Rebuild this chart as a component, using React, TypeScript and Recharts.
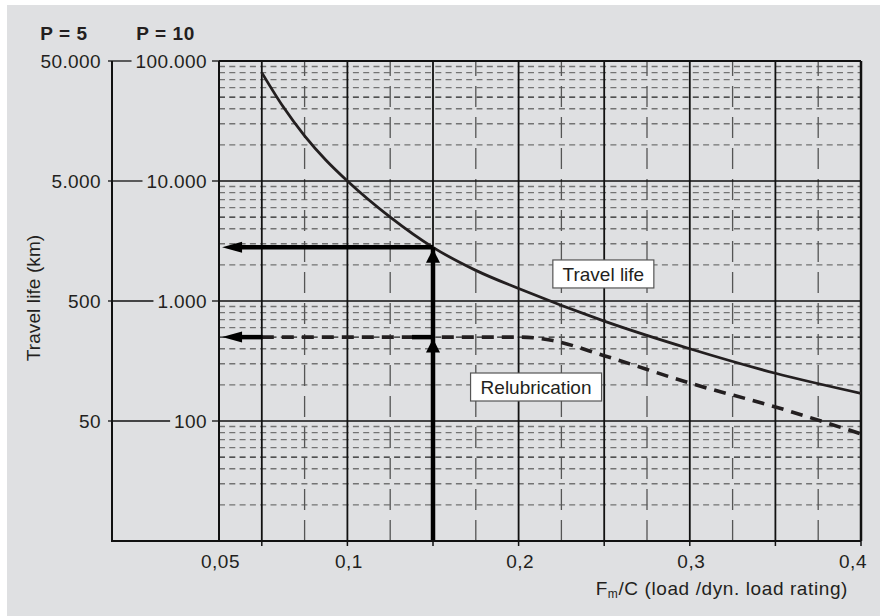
import React from 'react';
import { LineChart, Line, XAxis, YAxis, ReferenceLine, ReferenceDot } from 'recharts';

// ---------- data ----------
const travelX = [0.05, 0.0625, 0.075, 0.0875, 0.1, 0.125, 0.15, 0.175, 0.2, 0.25, 0.3, 0.35, 0.4];
const travelLife = [80000, 41500, 23800, 14900, 10000, 5000, 2800, 1800, 1270, 680, 400, 250, 170];

const relubX = [0.05, 0.1, 0.15, 0.2, 0.21, 0.22, 0.25, 0.3, 0.35, 0.4];
const relubrication = [500, 500, 500, 500, 492, 468, 350, 207, 131, 78];

const xTicks = [0.025, 0.05, 0.1, 0.15, 0.2, 0.25, 0.3, 0.35, 0.4];
const xLabelValues = [0.025, 0.1, 0.2, 0.3, 0.4];
const xLabelTexts = ['0,05', '0,1', '0,2', '0,3', '0,4'];

const p10Ticks = [100, 1000, 10000, 100000];
const p10Labels = ['100', '1.000', '10.000', '100.000'];
const p5Ticks = [50, 500, 5000, 50000];
const p5Labels = ['50', '500', '5.000', '50.000'];

const majorX = [0.05, 0.1, 0.15, 0.2, 0.25, 0.3, 0.35];
const minorX = [0.075, 0.125, 0.175, 0.225, 0.275, 0.325, 0.375];
const majorY = [100, 1000, 10000];
const decades = [10, 100, 1000, 10000];
const minorYDark = [50, 500, 5000, 50000];
const minorYGray = decades.flatMap((d) => [2, 3, 4, 6, 7, 8, 9].map((k) => k * d));

// arrow annotation values
const readX = 0.15;
const readTravel = 2800;
const readRelub = 500;
const arrowTipX = 0.0268;
const arrowShaftStartX = 0.035;
const relubThickEndX = 0.0505;
const relubThickStartX = 0.1377;

const travelLabel = { x: 0.2495, y: 1680, text: 'Travel life', w: 101 };
const relubLabel = { x: 0.2102, y: 192, text: 'Relubrication', w: 131 };

// ---------- style ----------
const BG = '#dfe0e2';
const INK = '#231f20';
const FONT = '"Liberation Sans", Arial, Helvetica, sans-serif';
const FS = 19;
const P10_W = 107;
const P5_W = 105;

const travelData = travelX.map((x, i) => ({ x, y: travelLife[i] }));
const relubData = relubX.map((x, i) => ({ x, y: relubrication[i] }));

// approximate Arial advance widths for tick label strings
const textWidth = (s: string, size: number, ls: number) =>
  s.split('').reduce((w, c) => w + (c === '.' || c === ',' ? 0.278 : 0.556) * size + ls, 0);

const XTick = (props: any) => {
  const { x, y, payload } = props;
  const v = payload.value;
  const idx = xLabelValues.indexOf(v);
  const isLast = idx === xLabelValues.length - 1;
  return (
    <g>
      {v > 0.03 && <line x1={x} y1={y} x2={x} y2={y + 5} stroke="#111" strokeWidth={1.5} />}
      {idx >= 0 && (
        <text
          x={x + (isLast ? -8 : 1.5)}
          y={y + 20}
          dy="0.36em"
          textAnchor="middle"
          fontFamily={FONT}
          fontSize={FS}
          letterSpacing={0.5}
          fill={INK}
        >
          {xLabelTexts[idx]}
        </text>
      )}
    </g>
  );
};

const P10Tick = (props: any) => {
  const { x, y, payload } = props;
  const idx = p10Ticks.indexOf(payload.value);
  if (idx < 0) return null;
  const label = p10Labels[idx];
  const end = x - 12;
  const start = end - textWidth(label, FS, 0.4);
  return (
    <g>
      <line x1={x - P10_W} y1={y} x2={start - 4} y2={y} stroke="#111" strokeWidth={1.3} />
      <line x1={x - 7} y1={y} x2={x} y2={y} stroke="#111" strokeWidth={1.3} />
      <text x={end} y={y} dy="0.36em" textAnchor="end" fontFamily={FONT} fontSize={FS} letterSpacing={0.4} fill={INK}>
        {label}
      </text>
    </g>
  );
};

const P5Tick = (props: any) => {
  const { x, y, payload } = props;
  const idx = p5Ticks.indexOf(payload.value);
  if (idx < 0) return null;
  return (
    <g>
      <line x1={x - 4} y1={y} x2={x} y2={y} stroke="#111" strokeWidth={1.3} />
      <text x={x - 11} y={y} dy="0.36em" textAnchor="end" fontFamily={FONT} fontSize={FS} letterSpacing={0.4} fill={INK}>
        {p5Labels[idx]}
      </text>
    </g>
  );
};

const P5Label = (props: any) => {
  const vb = props.viewBox || { x: 0, y: 56, width: P5_W, height: 480 };
  const right = vb.x + vb.width;
  const bottom = vb.y + vb.height;
  const cx = vb.x + 26;
  const cy = vb.y + vb.height / 2 - 3;
  return (
    <g>
      <text x={vb.x + 57} y={vb.y - 21} textAnchor="middle" fontFamily={FONT} fontSize={FS} fontWeight="bold" letterSpacing={0.6} fill={INK}>
        P = 5
      </text>
      <text
        x={cx}
        y={cy}
        transform={`rotate(-90 ${cx} ${cy})`}
        textAnchor="middle"
        dy="0.36em"
        fontFamily={FONT}
        fontSize={FS}
        letterSpacing={0.1}
        fill={INK}
      >
        Travel life (km)
      </text>
      <line x1={right - 1} y1={bottom} x2={right + P10_W} y2={bottom} stroke="#111" strokeWidth={2} />
    </g>
  );
};

const P10Label = (props: any) => {
  const vb = props.viewBox || { x: P5_W, y: 56, width: P10_W, height: 480 };
  return (
    <text x={vb.x + 53.5} y={vb.y - 21} textAnchor="middle" fontFamily={FONT} fontSize={FS} fontWeight="bold" letterSpacing={0.6} fill={INK}>
      P = 10
    </text>
  );
};

const XLabel = (props: any) => {
  const vb = props.viewBox || { x: 212, y: 536, width: 642, height: 75 };
  return (
    <text x={vb.x + vb.width - 13} y={vb.y + 54} textAnchor="end" fontFamily={FONT} fontSize={FS} letterSpacing={0.6} fill={INK}>
      F<tspan fontSize={12} dy={3}>m</tspan>
      <tspan dy={-3}>/C (load /dyn. load rating)</tspan>
    </text>
  );
};

const LeftHead = (props: any) => {
  const { cx, cy } = props;
  return <polygon points={`${cx},${cy} ${cx + 20},${cy - 5.5} ${cx + 20},${cy + 5.5}`} fill="#000" />;
};

const UpHead = (props: any) => {
  const { cx, cy } = props;
  return <polygon points={`${cx},${cy + 1.5} ${cx - 7},${cy + 15.5} ${cx + 7},${cy + 15.5}`} fill="#000" />;
};

const makeBox = (text: string, w: number) => (props: any) => {
  const { cx, cy } = props;
  return (
    <g>
      <rect x={cx - w / 2} y={cy - 14} width={w} height={28} fill="#fff" stroke="#555" strokeWidth={1.2} />
      <text x={cx} y={cy} dy="0.36em" textAnchor="middle" fontFamily={FONT} fontSize={FS} fill={INK}>
        {text}
      </text>
    </g>
  );
};

export default function App() {
  return (
    <div style={{ position: 'absolute', left: 7, top: 5, width: 873, height: 611, background: BG }}>
      <LineChart width={873} height={611} margin={{ top: 56, right: 19, bottom: 0, left: 0 }}>
        <XAxis
          xAxisId={0}
          dataKey="x"
          type="number"
          domain={[0.025, 0.4]}
          allowDataOverflow
          ticks={xTicks}
          interval={0}
          height={75}
          tickSize={0}
          tickMargin={0}
          tickLine={false}
          axisLine={{ stroke: '#111', strokeWidth: 2 }}
          tick={<XTick />}
          label={{ content: <XLabel /> }}
        />
        <YAxis
          yAxisId="p10"
          orientation="left"
          type="number"
          scale="log"
          domain={[10, 100000]}
          allowDataOverflow
          ticks={p10Ticks}
          interval={0}
          width={P10_W}
          tickSize={0}
          tickMargin={0}
          tickLine={false}
          axisLine={false}
          tick={<P10Tick />}
          label={{ content: <P10Label /> }}
        />
        <YAxis
          yAxisId="p5"
          orientation="left"
          type="number"
          scale="log"
          domain={[5, 50000]}
          allowDataOverflow
          ticks={p5Ticks}
          interval={0}
          width={P5_W}
          tickSize={0}
          tickMargin={0}
          tickLine={false}
          axisLine={{ stroke: '#111', strokeWidth: 2 }}
          tick={<P5Tick />}
          label={{ content: <P5Label /> }}
        />

        {/* minor horizontal grid */}
        {minorYGray.map((v) => (
          <ReferenceLine key={`hg${v}`} yAxisId="p10" y={v} stroke="#737373" strokeWidth={1.4} strokeDasharray="6 4.3" />
        ))}
        {minorYDark.map((v) => (
          <ReferenceLine key={`hd${v}`} yAxisId="p10" y={v} stroke="#222" strokeWidth={1.3} strokeDasharray="6 4.3" />
        ))}
        {/* minor vertical grid */}
        {minorX.map((v) => (
          <ReferenceLine key={`vm${v}`} yAxisId="p10" x={v} stroke="#555" strokeWidth={1.3} strokeDasharray="21 10" />
        ))}
        {/* major grid */}
        {majorY.map((v) => (
          <ReferenceLine key={`hM${v}`} yAxisId="p10" y={v} stroke="#111" strokeWidth={1.7} />
        ))}
        {majorX.map((v) => (
          <ReferenceLine key={`vM${v}`} yAxisId="p10" x={v} stroke="#111" strokeWidth={1.8} />
        ))}
        {/* border */}
        <ReferenceLine yAxisId="p10" y={100000} stroke="#111" strokeWidth={2} />
        <ReferenceLine yAxisId="p10" x={0.025} stroke="#111" strokeWidth={2} />
        <ReferenceLine yAxisId="p10" x={0.4} stroke="#111" strokeWidth={2.5} />

        <Line
          yAxisId="p10"
          data={relubData}
          dataKey="y"
          type="monotone"
          stroke={INK}
          strokeWidth={3.6}
          strokeDasharray="12 8"
          dot={false}
          isAnimationActive={false}
        />
        <Line
          yAxisId="p10"
          data={travelData}
          dataKey="y"
          type="monotone"
          stroke={INK}
          strokeWidth={2.8}
          dot={false}
          isAnimationActive={false}
        />

        {/* reading arrows */}
        <ReferenceLine
          yAxisId="p10"
          segment={[{ x: arrowShaftStartX, y: readTravel }, { x: readX, y: readTravel }]}
          stroke="#000"
          strokeWidth={4.5}
        />
        <ReferenceLine
          yAxisId="p10"
          segment={[{ x: readX, y: 10 }, { x: readX, y: readTravel }]}
          stroke="#000"
          strokeWidth={4.5}
        />
        <ReferenceLine
          yAxisId="p10"
          segment={[{ x: arrowShaftStartX, y: readRelub }, { x: relubThickEndX, y: readRelub }]}
          stroke="#000"
          strokeWidth={4.5}
        />
        <ReferenceLine
          yAxisId="p10"
          segment={[{ x: relubThickStartX, y: readRelub }, { x: readX, y: readRelub }]}
          stroke="#000"
          strokeWidth={4.5}
        />
        <ReferenceDot yAxisId="p10" x={arrowTipX} y={readTravel} r={1} shape={LeftHead} />
        <ReferenceDot yAxisId="p10" x={arrowTipX} y={readRelub} r={1} shape={LeftHead} />
        <ReferenceDot yAxisId="p10" x={readX} y={readTravel} r={1} shape={UpHead} />
        <ReferenceDot yAxisId="p10" x={readX} y={readRelub} r={1} shape={UpHead} />

        <ReferenceDot yAxisId="p10" x={travelLabel.x} y={travelLabel.y} r={1} shape={makeBox(travelLabel.text, travelLabel.w)} />
        <ReferenceDot yAxisId="p10" x={relubLabel.x} y={relubLabel.y} r={1} shape={makeBox(relubLabel.text, relubLabel.w)} />
      </LineChart>
    </div>
  );
}
